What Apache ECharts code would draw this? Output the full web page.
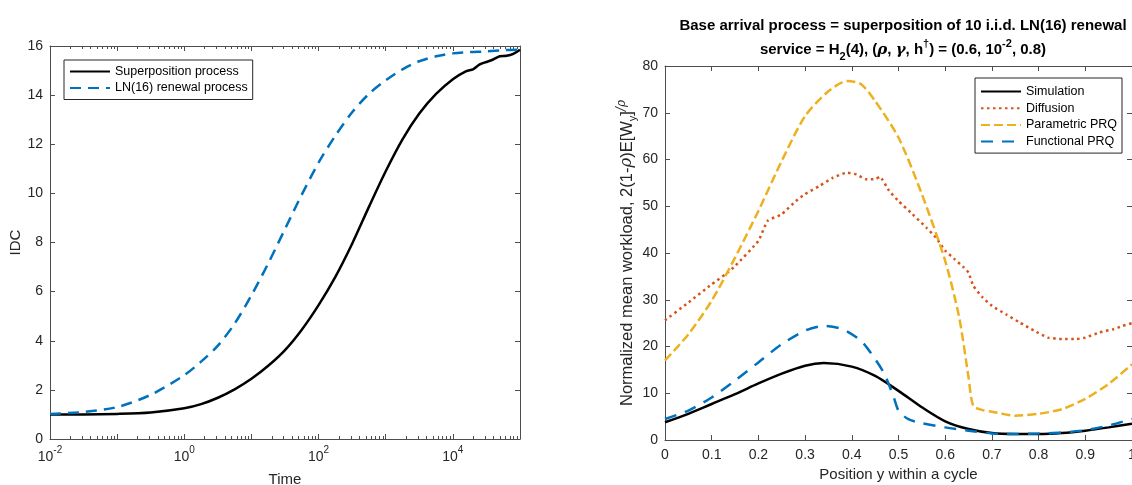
<!DOCTYPE html>
<html><head><meta charset="utf-8">
<script src="https://cdn.jsdelivr.net/npm/echarts@6/dist/echarts.min.js"></script>
<style>html,body{margin:0;padding:0;background:#fff}#c{width:1132px;height:485px}</style>
</head><body><div id="c"></div><script>
// ---------- Left panel: IDC vs Time (x given as log10 of time) ----------
const superExp = [-2, -1.5, -1, -0.5, 0, 0.25, 0.5, 0.75, 1, 1.25, 1.5, 1.75, 2, 2.25, 2.5, 2.75, 3, 3.25, 3.5, 3.75, 4, 4.2, 4.3, 4.4, 4.5, 4.6, 4.7, 4.8, 4.9, 5];
const superIDC = [1.0, 1.0, 1.02, 1.08, 1.25, 1.42, 1.68, 2.02, 2.45, 2.98, 3.62, 4.45, 5.45, 6.6, 7.95, 9.45, 10.9, 12.2, 13.25, 14.05, 14.65, 14.98, 15.05, 15.25, 15.35, 15.45, 15.58, 15.6, 15.68, 15.85];
const renewalExp = [-2, -1.5, -1, -0.5, 0, 0.25, 0.5, 0.75, 1, 1.25, 1.5, 1.75, 2, 2.25, 2.5, 2.75, 3, 3.25, 3.5, 3.75, 4, 4.25, 4.5, 4.75, 5];
const renewalIDC = [1.02, 1.1, 1.3, 1.8, 2.6, 3.15, 3.8, 4.7, 5.85, 7.15, 8.55, 9.95, 11.25, 12.35, 13.3, 14.05, 14.6, 15.05, 15.38, 15.58, 15.7, 15.75, 15.78, 15.83, 15.85];
const leftXLabelExps = [-2, 0, 2, 4];
const leftLegend = ['Superposition process', 'LN(16) renewal process'];

// ---------- Right panel: normalized mean workload ----------
const simX = [0, 0.05, 0.1, 0.15, 0.2, 0.25, 0.3, 0.34, 0.4, 0.45, 0.5, 0.55, 0.6, 0.65, 0.7, 0.75, 0.8, 0.85, 0.9, 0.95, 1.0];
const simY = [3.8, 5.6, 7.7, 9.8, 12.1, 14.2, 15.9, 16.45, 15.7, 13.7, 10.5, 7.0, 4.0, 2.35, 1.5, 1.3, 1.3, 1.5, 2.0, 2.7, 3.5];
const difX = [0, 0.05, 0.1, 0.13, 0.15, 0.2, 0.22, 0.25, 0.28, 0.3, 0.33, 0.36, 0.39, 0.41, 0.43, 0.45, 0.46, 0.48, 0.5, 0.53, 0.56, 0.58, 0.6, 0.62, 0.64, 0.65, 0.66, 0.68, 0.7, 0.73, 0.76, 0.79, 0.82, 0.85, 0.88, 0.9, 0.93, 0.96, 0.98, 1.0];
const difY = [25.6, 29.4, 33.3, 35.5, 37.2, 42.6, 46.9, 48.3, 51.1, 52.6, 54.3, 56.1, 57.2, 56.8, 55.8, 55.8, 56.3, 53.3, 51.1, 48.3, 45.4, 43.3, 40.5, 38.7, 36.9, 35.8, 33.0, 30.5, 28.7, 26.9, 25.1, 23.4, 21.9, 21.6, 21.6, 21.9, 23.0, 23.7, 24.4, 25.0];
const parX = [0, 0.05, 0.1, 0.15, 0.2, 0.25, 0.3, 0.35, 0.39, 0.42, 0.45, 0.5, 0.55, 0.6, 0.63, 0.65, 0.66, 0.68, 0.7, 0.75, 0.8, 0.85, 0.9, 0.95, 1.0];
const parY = [17.0, 22.6, 29.8, 39.0, 49.0, 59.7, 69.3, 74.6, 76.8, 76.1, 72.5, 64.7, 52.6, 38.3, 26.2, 13.4, 7.3, 6.4, 6.05, 5.2, 5.6, 6.6, 8.8, 12.0, 16.2];
const funX = [0, 0.05, 0.1, 0.15, 0.2, 0.25, 0.3, 0.34, 0.38, 0.42, 0.45, 0.47, 0.49, 0.5, 0.52, 0.55, 0.6, 0.65, 0.7, 0.75, 0.8, 0.85, 0.9, 0.95, 1.0];
const funY = [4.5, 6.3, 9.1, 12.7, 16.6, 20.5, 23.4, 24.4, 23.7, 21.2, 17.3, 14.1, 9.1, 6.3, 4.5, 3.6, 2.7, 2.0, 1.4, 1.3, 1.4, 1.6, 2.1, 3.1, 4.5];
const rightLegend = ['Simulation', 'Diffusion', 'Parametric PRQ', 'Functional PRQ'];

const FONT = '"Liberation Sans", Arial, Helvetica, sans-serif';
const SERIF = '"DejaVu Serif", "Liberation Serif", serif';
const AX = '#4d4d4d';
const TXT = '#262626';
const C_BLUE = '#0072BD', C_ORANGE = '#D95319', C_YELLOW = '#EDB120';
const TICK_FS = 14, NAME_FS = 15;

const zip = (xs, ys) => xs.map((x, i) => [x, ys[i]]);

// minor tick positions for the log axis (axis furniture only)
const minorExps = [];
for (let d = -2; d < 5; d++) for (let k = 2; k <= 9; k++) minorExps.push([d + Math.log10(k), 0]);

function boxAxes(gridIndex, xmin, xmax, xint, ymin, ymax, yint, xLabelCfg, xName, xNameGap, yName, yNameGap, yNameStyle) {
  const common = {
    axisLine: { show: true, onZero: false, lineStyle: { color: AX, width: 1 } },
    axisTick: { show: true, inside: true, length: 5, lineStyle: { color: AX, width: 1 } },
    splitLine: { show: false }
  };
  const xs = [
    Object.assign({}, common, {
      type: 'value', gridIndex, position: 'bottom', min: xmin, max: xmax, interval: xint,
      axisLabel: xLabelCfg, name: xName, nameLocation: 'middle', nameGap: xNameGap,
      nameTextStyle: { fontFamily: FONT, fontSize: NAME_FS, color: TXT }
    }),
    Object.assign({}, common, {
      type: 'value', gridIndex, position: 'top', min: xmin, max: xmax, interval: xint,
      axisLabel: { show: false }
    })
  ];
  const ys = [
    Object.assign({}, common, {
      type: 'value', gridIndex, position: 'left', min: ymin, max: ymax, interval: yint,
      axisLabel: { show: true, margin: 7, fontFamily: FONT, fontSize: TICK_FS, color: TXT },
      name: yName, nameLocation: 'middle', nameGap: yNameGap, nameRotate: 90,
      nameTextStyle: yNameStyle
    }),
    Object.assign({}, common, {
      type: 'value', gridIndex, position: 'right', min: ymin, max: ymax, interval: yint,
      axisLabel: { show: false }
    })
  ];
  return { xs, ys };
}

const left = boxAxes(0, -2, 5, 1, 0, 16, 2, {
  show: true, margin: 6,
  formatter: v => (leftXLabelExps.includes(Math.round(v)) && Math.abs(v - Math.round(v)) < 1e-9) ? '{b|10}{s|' + Math.round(v) + '}' : '',
  rich: {
    b: { fontFamily: FONT, fontSize: TICK_FS, color: TXT, lineHeight: 19, verticalAlign: 'bottom' },
    s: { fontFamily: FONT, fontSize: 10, color: TXT, lineHeight: 10, verticalAlign: 'top' }
  }
}, 'Time', 33, 'IDC', 27, { fontFamily: FONT, fontSize: NAME_FS, color: TXT });

const YN = 16.5;
const right = boxAxes(1, 0, 1, 0.1, 0, 80, 10, {
  show: true, margin: 8, fontFamily: FONT, fontSize: TICK_FS, color: TXT,
  formatter: v => String(Math.round(v * 10) / 10)
}, 'Position y within a cycle', 27,
  '{a|Normalized mean workload, 2(1-}{g|ρ}{a|)E[W}{sub|y}{a|]}{sup|/ρ}', 27,
  {
    fontFamily: FONT, fontSize: YN, color: TXT,
    rich: {
      a: { fontFamily: FONT, fontSize: YN, color: TXT, lineHeight: 22, verticalAlign: 'middle' },
      g: { fontFamily: SERIF, fontStyle: 'italic', fontSize: YN, color: TXT, lineHeight: 22, verticalAlign: 'middle' },
      sub: { fontFamily: FONT, fontSize: 11, color: TXT, lineHeight: 11, verticalAlign: 'bottom' },
      sup: { fontFamily: SERIF, fontStyle: 'italic', fontSize: 12, color: TXT, lineHeight: 12, verticalAlign: 'top' }
    }
  });

const legendCommon = {
  orient: 'vertical', itemWidth: 40, itemHeight: 10,
  borderColor: '#262626', borderWidth: 1, backgroundColor: '#fff', borderRadius: 0,
  itemStyle: { opacity: 0, borderWidth: 0 },
  textStyle: { fontFamily: FONT, fontSize: 12.5, lineHeight: 12, color: '#000' },
  selectedMode: false
};

const option = {
  animation: false,
  backgroundColor: '#fff',
  title: [
    {
      text: 'Base arrival process = superposition of 10 i.i.d. LN(16) renewal',
      left: 898, top: 13, textAlign: 'center',
      textStyle: { fontFamily: FONT, fontSize: 15, fontWeight: 'bold', color: '#000' }
    },
    {
      text: '{a|service = H}{sub|2}{a|(4), (}{g|ρ}{a|, }{g|γ}{a|, h}{sup|†}{a|) = (0.6, 10}{sup|-2}{a|, 0.8)}',
      left: 898, top: 33, textAlign: 'center',
      textStyle: {
        rich: {
          a: { fontFamily: FONT, fontSize: 15, fontWeight: 'bold', color: '#000', lineHeight: 24, verticalAlign: 'middle' },
          g: { fontFamily: SERIF, fontStyle: 'italic', fontSize: 15, color: '#000', lineHeight: 24, verticalAlign: 'middle' },
          sub: { fontFamily: FONT, fontSize: 11, fontWeight: 'bold', color: '#000', lineHeight: 11, verticalAlign: 'bottom' },
          sup: { fontFamily: FONT, fontSize: 11, fontWeight: 'bold', color: '#000', lineHeight: 11, verticalAlign: 'top' }
        }
      }
    }
  ],
  grid: [
    { left: 50, top: 46, width: 470, height: 393, containLabel: false, outerBoundsMode: 'none' },
    { left: 665, top: 66, width: 467, height: 374, containLabel: false, outerBoundsMode: 'none' }
  ],
  xAxis: [...left.xs, ...right.xs],
  yAxis: [...left.ys, ...right.ys],
  legend: [
    Object.assign({}, legendCommon, {
      data: leftLegend, left: 64, top: 60, padding: [5, 5, 5, 5], itemGap: 3.5
    }),
    Object.assign({}, legendCommon, {
      data: rightLegend, left: 975, top: 78, padding: [7, 5, 5, 5], itemGap: 3.7
    })
  ],
  series: [
    {
      type: 'custom', xAxisIndex: 0, yAxisIndex: 0, silent: true, clip: false,
      data: minorExps, encode: { x: 0, y: 1 },
      renderItem: (params, api) => {
        const x = api.value(0);
        const b = api.coord([x, 0]);
        const t = api.coord([x, 16]);
        const px = Math.round(b[0]) + 0.5;
        return {
          type: 'group', children: [
            { type: 'line', shape: { x1: px, y1: b[1], x2: px, y2: b[1] - 3 }, style: { stroke: AX, lineWidth: 1 } },
            { type: 'line', shape: { x1: px, y1: t[1], x2: px, y2: t[1] + 3 }, style: { stroke: AX, lineWidth: 1 } }
          ]
        };
      }
    },
    {
      name: leftLegend[0], type: 'line', xAxisIndex: 0, yAxisIndex: 0, symbol: 'none', smooth: 0.3,
      data: zip(superExp, superIDC), lineStyle: { color: '#000', width: 2.5 }, itemStyle: { color: '#000' }, z: 3
    },
    {
      name: leftLegend[1], type: 'line', xAxisIndex: 0, yAxisIndex: 0, symbol: 'none', smooth: 0.3,
      data: zip(renewalExp, renewalIDC), lineStyle: { color: C_BLUE, width: 2.5, type: [11, 7] }, itemStyle: { color: C_BLUE }, z: 4
    },
    {
      name: rightLegend[0], type: 'line', xAxisIndex: 2, yAxisIndex: 2, symbol: 'none', smooth: 0.3,
      data: zip(simX, simY), lineStyle: { color: '#000', width: 2.5 }, itemStyle: { color: '#000' }, z: 3
    },
    {
      name: rightLegend[1], type: 'line', xAxisIndex: 2, yAxisIndex: 2, symbol: 'none', smooth: 0.15,
      data: zip(difX, difY), lineStyle: { color: C_ORANGE, width: 2.5, type: [2.5, 3.5] }, itemStyle: { color: C_ORANGE }, z: 4
    },
    {
      name: rightLegend[2], type: 'line', xAxisIndex: 2, yAxisIndex: 2, symbol: 'none', smooth: 0.25,
      data: zip(parX, parY), lineStyle: { color: C_YELLOW, width: 2.5, type: [9, 4] }, itemStyle: { color: C_YELLOW }, z: 5
    },
    {
      name: rightLegend[3], type: 'line', xAxisIndex: 2, yAxisIndex: 2, symbol: 'none', smooth: 0.25,
      data: zip(funX, funY), lineStyle: { color: C_BLUE, width: 2.5, type: [12, 9] }, itemStyle: { color: C_BLUE }, z: 6
    }
  ]
};

const chart = echarts.init(document.getElementById('c'), null, { renderer: 'canvas' });
chart.setOption(option);
</script></body></html>
